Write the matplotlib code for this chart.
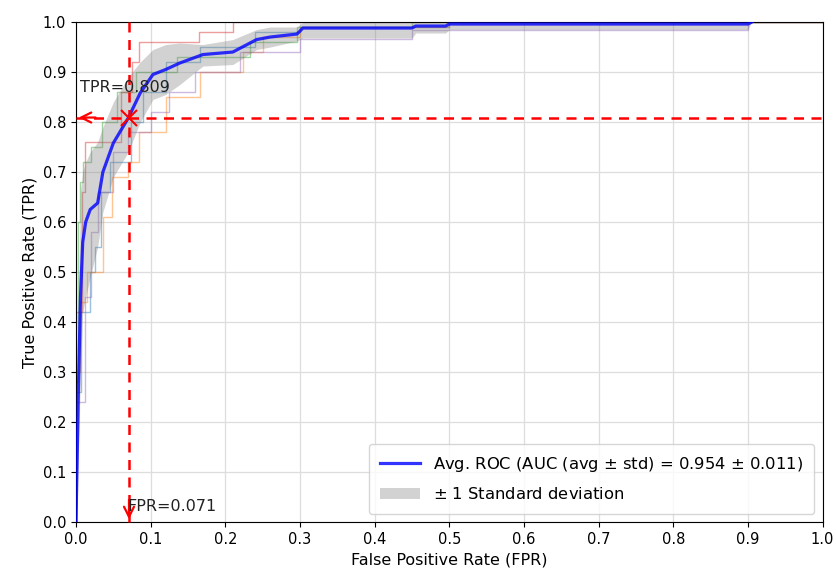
import matplotlib
matplotlib.use("Agg")
import matplotlib.pyplot as plt
from matplotlib.patches import Patch
from matplotlib.lines import Line2D

# ---- data ----
fold_blue_fpr = [0, 0, 0.007, 0.007, 0.019, 0.019, 0.025, 0.025, 0.034, 0.034, 0.045, 0.045, 0.074, 0.074, 0.09, 0.09, 0.12, 0.12, 0.166, 0.166, 0.24, 0.24, 0.3, 0.3, 0.5, 0.5, 1.0]
fold_blue_tpr = [0, 0.26, 0.26, 0.42, 0.42, 0.5, 0.5, 0.55, 0.55, 0.66, 0.66, 0.72, 0.72, 0.8, 0.8, 0.86, 0.86, 0.92, 0.92, 0.95, 0.95, 0.98, 0.98, 0.99, 0.99, 1.0, 1.0]

fold_orange_fpr = [0, 0, 0.005, 0.005, 0.015, 0.015, 0.036, 0.036, 0.048, 0.048, 0.07, 0.07, 0.085, 0.085, 0.12, 0.12, 0.166, 0.166, 0.224, 0.224, 0.25, 0.25, 0.3, 0.3, 0.5, 0.5, 1.0]
fold_orange_tpr = [0, 0.3, 0.3, 0.44, 0.44, 0.5, 0.5, 0.61, 0.61, 0.69, 0.69, 0.72, 0.72, 0.78, 0.78, 0.85, 0.85, 0.9, 0.9, 0.94, 0.94, 0.97, 0.97, 0.99, 0.99, 1.0, 1.0]

fold_green_fpr = [0, 0, 0.003, 0.003, 0.005, 0.005, 0.01, 0.01, 0.02, 0.02, 0.035, 0.035, 0.055, 0.055, 0.08, 0.08, 0.135, 0.135, 0.233, 0.233, 0.296, 0.296, 0.45, 0.45, 1.0]
fold_green_tpr = [0, 0.28, 0.28, 0.6, 0.6, 0.68, 0.68, 0.72, 0.72, 0.75, 0.75, 0.8, 0.8, 0.86, 0.86, 0.9, 0.9, 0.93, 0.93, 0.96, 0.96, 0.99, 0.99, 1.0, 1.0]

fold_red_fpr = [0, 0, 0.008, 0.008, 0.012, 0.012, 0.06, 0.06, 0.075, 0.075, 0.085, 0.085, 0.165, 0.165, 0.21, 0.21, 1.0]
fold_red_tpr = [0, 0.42, 0.42, 0.66, 0.66, 0.76, 0.76, 0.86, 0.86, 0.92, 0.92, 0.96, 0.96, 0.98, 0.98, 1.0, 1.0]

fold_purple_fpr = [0, 0, 0.012, 0.012, 0.02, 0.02, 0.03, 0.03, 0.05, 0.05, 0.07, 0.07, 0.1, 0.1, 0.125, 0.125, 0.16, 0.16, 0.22, 0.22, 0.3, 0.3, 0.45, 0.45, 0.9, 0.9, 1.0]
fold_purple_tpr = [0, 0.24, 0.24, 0.45, 0.45, 0.58, 0.58, 0.66, 0.66, 0.74, 0.74, 0.78, 0.78, 0.82, 0.82, 0.86, 0.86, 0.9, 0.9, 0.94, 0.94, 0.966, 0.966, 0.985, 0.985, 1.0, 1.0]

mean_fpr = [0, 0.003, 0.006, 0.009, 0.013, 0.019, 0.029, 0.036, 0.05, 0.07, 0.086, 0.103, 0.12, 0.139, 0.17, 0.21, 0.242, 0.26, 0.296, 0.304, 0.45, 0.455, 0.495, 0.5, 0.9, 0.905]
mean_tpr = [0, 0.25, 0.45, 0.56, 0.60, 0.625, 0.638, 0.70, 0.758, 0.808, 0.858, 0.895, 0.905, 0.918, 0.935, 0.94, 0.965, 0.97, 0.976, 0.988, 0.988, 0.992, 0.992, 0.996, 0.996, 1.0]
upper_tpr = [0, 0.40, 0.66, 0.70, 0.72, 0.74, 0.76, 0.79, 0.84, 0.89, 0.92, 0.945, 0.955, 0.958, 0.955, 0.965, 0.985, 0.99, 0.99, 1.0, 1.0, 1.0, 1.0, 1.0, 1.0, 1.0]
lower_tpr = [0, 0.12, 0.30, 0.42, 0.45, 0.49, 0.55, 0.62, 0.69, 0.74, 0.80, 0.845, 0.855, 0.875, 0.912, 0.915, 0.945, 0.95, 0.962, 0.968, 0.968, 0.978, 0.978, 0.985, 0.985, 1.0]

auc_mean = 0.954
auc_std = 0.011
thr_fpr = 0.071
thr_tpr = 0.809

fig = plt.figure(figsize=(8.37, 5.8), dpi=100)
ax = fig.add_axes([0.0908, 0.1, 0.892, 0.862])

folds = [
    (fold_blue_fpr, fold_blue_tpr, "tab:blue"),
    (fold_orange_fpr, fold_orange_tpr, "tab:orange"),
    (fold_green_fpr, fold_green_tpr, "tab:green"),
    (fold_red_fpr, fold_red_tpr, "tab:red"),
    (fold_purple_fpr, fold_purple_tpr, "tab:purple"),
]
for fx, fy, c in folds:
    ax.plot(fx, fy, color=c, lw=1.0, alpha=0.45, zorder=2)

ax.fill_between(mean_fpr, lower_tpr, upper_tpr, color="grey", alpha=0.35, lw=0, zorder=2.2)
ax.plot(mean_fpr, mean_tpr, color="blue", lw=2.3, alpha=0.8, zorder=3)

# threshold lines
ax.plot([0, 1], [thr_tpr, thr_tpr], color="red", ls="--", lw=1.8, dashes=(4, 3), zorder=4, clip_on=False)
ax.plot([thr_fpr, thr_fpr], [0, 1], color="red", ls="--", lw=1.8, dashes=(4, 3), zorder=4, clip_on=False)
ax.annotate("", xy=(0, thr_tpr), xytext=(0.03, thr_tpr),
            arrowprops=dict(arrowstyle="->", color="red", lw=1.6, mutation_scale=18),
            annotation_clip=False, zorder=5)
ax.annotate("", xy=(thr_fpr, 0), xytext=(thr_fpr, 0.05),
            arrowprops=dict(arrowstyle="->", color="red", lw=1.6, mutation_scale=18),
            annotation_clip=False, zorder=5)
ax.plot([thr_fpr], [thr_tpr], marker="x", color="red", ms=11, mew=1.5, zorder=6)
ax.text(0.005, 0.87, f"TPR={thr_tpr:.3f}", fontsize=11.5, va="center", ha="left", color="#222222", zorder=7)
ax.text(thr_fpr - 0.002, 0.032, f"FPR={thr_fpr:.3f}", fontsize=11.5, va="center", ha="left", color="#222222", zorder=7)

ax.set_xlim(0, 1)
ax.set_ylim(0, 1)
ticks = [i / 10 for i in range(11)]
ax.set_xticks(ticks)
ax.set_yticks(ticks)
ax.set_xticklabels([f"{t:.1f}" for t in ticks], fontsize=10.5)
ax.set_yticklabels([f"{t:.1f}" for t in ticks], fontsize=10.5)
ax.grid(True, color="#dddddd", lw=0.9)
ax.set_axisbelow(True)
ax.set_xlabel("False Positive Rate (FPR)", fontsize=11.5)
ax.set_ylabel("True Positive Rate (TPR)", fontsize=11.5)

handles = [
    Line2D([0], [0], color="blue", lw=2.3, alpha=0.8),
    Patch(facecolor="grey", alpha=0.35),
]
labels = [f"Avg. ROC (AUC (avg $\\pm$ std) = {auc_mean:.3f} $\\pm$ {auc_std:.3f})",
          "$\\pm$ 1 Standard deviation"]
ax.legend(handles, labels, loc="lower right", fontsize=11.8, borderpad=0.7,
          handlelength=2.4, labelspacing=0.75)

fig.savefig("out.png", dpi=100)
